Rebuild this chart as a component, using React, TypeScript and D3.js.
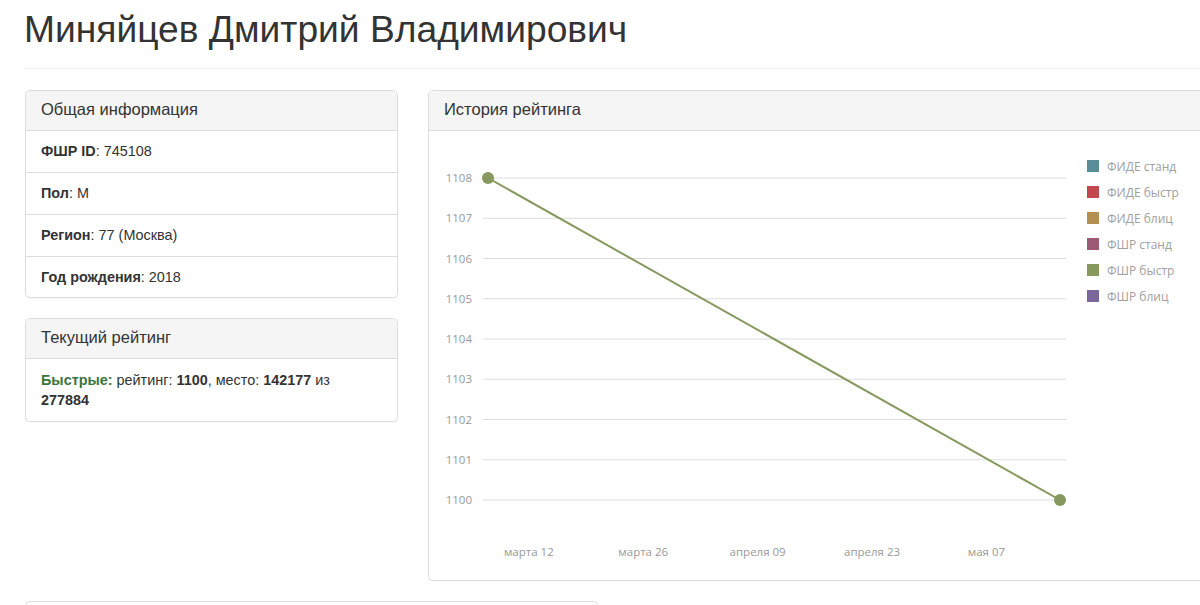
import React from "react";
import * as d3 from "d3";

const playerName = "Миняйцев Дмитрий Владимирович";
const infoLabels = ["ФШР ID", "Пол", "Регион", "Год рождения"];
const infoValues = ["745108", "М", "77 (Москва)", "2018"];

const ratingDates = ["2023-03-07", "2023-05-16"];
const ratingValues = [1108, 1100];
const yTicks = [1100, 1101, 1102, 1103, 1104, 1105, 1106, 1107, 1108];
const xTickDates = ["2023-03-12", "2023-03-26", "2023-04-09", "2023-04-23", "2023-05-07"];
const monthNames = ["января", "февраля", "марта", "апреля", "мая", "июня", "июля", "августа", "сентября", "октября", "ноября", "декабря"];

const legendNames = ["ФИДЕ станд", "ФИДЕ быстр", "ФИДЕ блиц", "ФШР станд", "ФШР быстр", "ФШР блиц"];
const legendColors = ["#5a8c98", "#c4474f", "#b48f52", "#9c5b75", "#87995f", "#7a669b"];

const bsFont = "'Liberation Sans', Arial, Helvetica, sans-serif";
const chartFont = "'Open Sans', 'Noto Sans', sans-serif";

function Panel({ x, y, w, h, headerH, title }: { x: number; y: number; w: number; h: number; headerH: number; title: string }) {
  return (
    <g>
      <rect x={x + 0.5} y={y + 1.5} width={w} height={h} rx={4} fill="#000" opacity={0.04} />
      <rect x={x + 0.5} y={y + 0.5} width={w} height={h} rx={4} fill="#fff" stroke="#dddddd" />
      <path d={`M${x + 1},${y + headerH} V${y + 4} Q${x + 1},${y + 1} ${x + 4},${y + 1} H${x + w - 3} Q${x + w},${y + 1} ${x + w},${y + 4} V${y + headerH} Z`} fill="#f5f5f5" />
      <line x1={x + 1} x2={x + w} y1={y + headerH + 0.5} y2={y + headerH + 0.5} stroke="#dddddd" />
      <text x={x + 16} y={y + 25} fontFamily={bsFont} fontSize={16.5} fill="#333">{title}</text>
    </g>
  );
}

export default function App() {
  const parse = d3.timeParse("%Y-%m-%d");
  const dates = ratingDates.map((d) => parse(d) as Date);
  const ticks = xTickDates.map((d) => parse(d) as Date);
  const x = d3.scaleTime().domain([dates[0], dates[dates.length - 1]]).range([488, 1060]);
  const y = d3.scaleLinear().domain([1100, 1108]).range([500, 178]);
  const line = d3.line<number>().x((_, i) => x(dates[i])).y((v) => y(v));
  const fmt = (d: Date) => `${monthNames[d.getMonth()]} ${d3.timeFormat("%d")(d)}`;

  return (
    <div style={{ position: "absolute", left: 0, top: 0 }}>
      <svg width={1200} height={605} style={{ display: "block" }}>
        <rect width={1200} height={605} fill="#fff" />
        <text x={24} y={42} fontFamily={bsFont} fontSize={37.2} fill="#333">{playerName}</text>
        <line x1={25} x2={1200} y1={68.5} y2={68.5} stroke="#eeeeee" />

        {/* General info */}
        <Panel x={25} y={90} w={372} h={207} headerH={40} title="Общая информация" />
        {infoLabels.map((lab, i) => (
          <g key={lab}>
            {i > 0 && <line x1={26} x2={397} y1={130.5 + i * 42} y2={130.5 + i * 42} stroke="#dddddd" />}
            <text x={41} y={156 + i * 42} fontFamily={bsFont} fontSize={14.4} fill="#333">
              <tspan fontWeight="bold">{lab}</tspan>
              <tspan>: {infoValues[i]}</tspan>
            </text>
          </g>
        ))}

        {/* Current rating */}
        <Panel x={25} y={318} w={372} h={103} headerH={40} title="Текущий рейтинг" />
        <text x={41} y={385} fontFamily={bsFont} fontSize={14.4} fill="#333">
          <tspan fontWeight="bold" fill="#3c763d">Быстрые:</tspan>
          <tspan> рейтинг: </tspan>
          <tspan fontWeight="bold">1100</tspan>
          <tspan>, место: </tspan>
          <tspan fontWeight="bold">142177</tspan>
          <tspan> из</tspan>
        </text>
        <text x={41} y={405} fontFamily={bsFont} fontSize={14.4} fill="#333" fontWeight="bold">277884</text>

        {/* History panel */}
        <Panel x={428} y={90} w={790} h={490} headerH={40} title="История рейтинга" />

        {yTicks.map((t) => (
          <g key={t}>
            <line x1={483} x2={1066} y1={y(t)} y2={y(t)} stroke="#dcdcdc" strokeWidth={1} />
            <text x={472} y={y(t) + 4} textAnchor="end" fontFamily={chartFont} fontSize={11.5} fill="#999">{t}</text>
          </g>
        ))}
        {ticks.map((t, i) => (
          <text key={i} x={x(t)} y={556} textAnchor="middle" fontFamily={chartFont} fontSize={11.5} fill="#999">{fmt(t)}</text>
        ))}

        <path d={line(ratingValues) || ""} fill="none" stroke="#87995f" strokeWidth={2} />
        {ratingValues.map((v, i) => (
          <circle key={i} cx={x(dates[i])} cy={y(v)} r={6} fill="#87995f" />
        ))}

        {legendNames.map((n, i) => (
          <g key={n}>
            <rect x={1087} y={160 + i * 26} width={12} height={12} fill={legendColors[i]} />
            <text x={1107} y={170.5 + i * 26} fontFamily={chartFont} fontSize={12} fill="#a0a0a0">{n}</text>
          </g>
        ))}

        {/* next panel top */}
        <rect x={25.5} y={601.5} width={572} height={20} rx={4} fill="#fff" stroke="#dddddd" />
      </svg>
    </div>
  );
}
